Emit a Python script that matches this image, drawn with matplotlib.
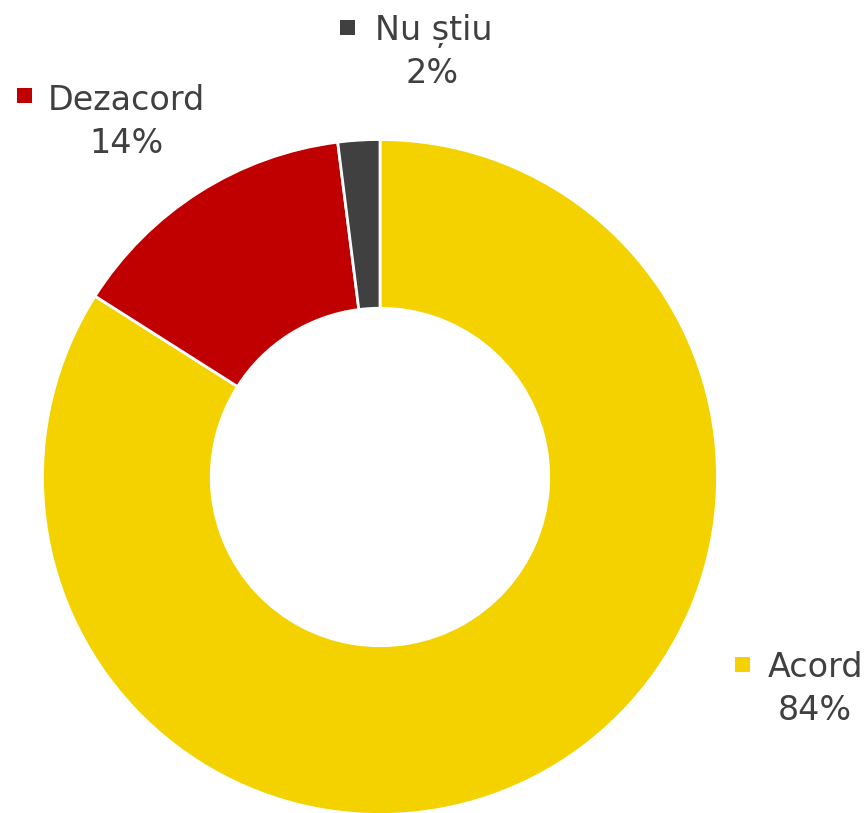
import matplotlib.pyplot as plt
from matplotlib.patches import Rectangle
from matplotlib.transforms import IdentityTransform

# data
labels = ['Acord', 'Dezacord', 'Nu știu']
values = [84, 14, 2]
colors = ['#F3D200', '#C00000', '#404040']
text_color = '#404040'

W, H = 868, 813
fig = plt.figure(figsize=(W / 100, H / 100), dpi=100)

# donut: centre (380, 477) px, outer radius ~337 px
cx, cy, r = 380, 477, 337.5
ax = fig.add_axes([(cx - r) / W, (H - cy - r) / H, 2 * r / W, 2 * r / H])
ax.pie(values, colors=colors, startangle=90, counterclock=False,
       radius=1, wedgeprops=dict(width=0.5, edgecolor='white', linewidth=2))
ax.set_xlim(-1, 1)
ax.set_ylim(-1, 1)
ax.set_aspect('equal')
ax.axis('off')

# label layout (pixel positions from top-left): square, name, percent
layout = {
    'Acord':    ((735, 657), (768, 677), (815, 720)),
    'Dezacord': ((17, 88), (48, 110), (126, 153)),
    'Nu știu':  ((340, 20), (375, 40), (432, 83)),
}
fs = 24
for lab, val, col in zip(labels, values, colors):
    (sx, sy), (nx, ny), (px, py) = layout[lab]
    fig.add_artist(Rectangle((sx, H - sy - 15), 15, 15, facecolor=col,
                             edgecolor='none', transform=IdentityTransform()))
    fig.text(nx / W, 1 - ny / H, lab, fontsize=fs, color=text_color,
             ha='left', va='baseline')
    fig.text(px / W, 1 - py / H, f'{val}%', fontsize=fs, color=text_color,
             ha='center', va='baseline')

fig.savefig('out.png', dpi=100)
